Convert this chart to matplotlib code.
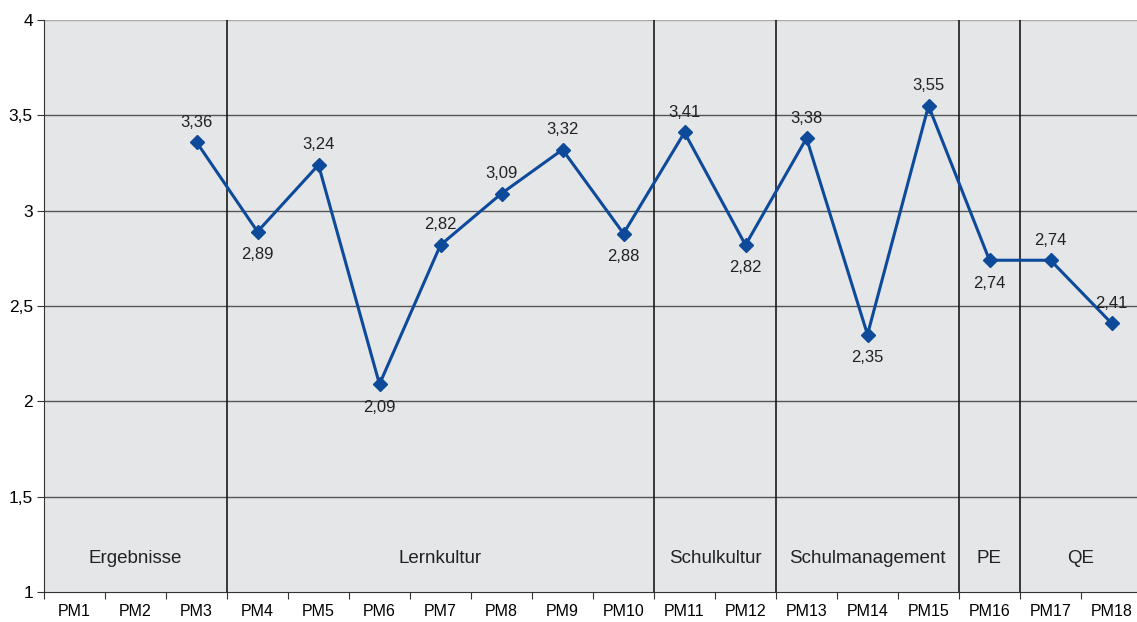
import matplotlib.pyplot as plt
import numpy as np

plt.rcParams['font.family'] = ['Liberation Sans', 'DejaVu Sans']

categories = ['PM%d' % i for i in range(1, 19)]
values = [None, None, 3.36, 2.89, 3.24, 2.09, 2.82, 3.09, 3.32, 2.88,
          3.41, 2.82, 3.38, 2.35, 3.55, 2.74, 2.74, 2.41]
# label above (1) or below (-1) the point
label_side = [0, 0, 1, -1, 1, -1, 1, 1, 1, -1, 1, -1, 1, -1, 1, -1, 1, 1]
groups = ['Ergebnisse', 'Lernkultur', 'Schulkultur', 'Schulmanagement', 'PE', 'QE']
group_sizes = [3, 7, 2, 3, 1, 2]
y_ticks = [1, 1.5, 2, 2.5, 3, 3.5, 4]
y_ticklabels = ['1', '1,5', '2', '2,5', '3', '3,5', '4']

W, H = 1137, 622
fig = plt.figure(figsize=(W / 100, H / 100), dpi=100)
ax = fig.add_axes([44 / W, (H - 592) / H, 18 * 61 / W, 572 / H])
ax.set_facecolor('#e5e6e8')

x = np.arange(len(categories))
ax.set_xlim(-0.5, len(categories) - 0.5)
ax.set_ylim(1, 4)

# horizontal gridlines
for yv in y_ticks[1:-1]:
    ax.axhline(yv, color='#555555', lw=1.0, zorder=1)

# group separators and labels
start = 0
for g, n in zip(groups, group_sizes):
    end = start + n
    if end < len(categories):
        ax.axvline(end - 0.5, color='#1a1a1a', lw=1.2, zorder=2)
    ax.text((start + end - 1) / 2, 1.175, g, ha='center', va='center',
            fontsize=13.5, color='#222222')
    start = end

xs = [xi for xi, v in zip(x, values) if v is not None]
ys = [v for v in values if v is not None]
ax.plot(xs, ys, color='#0d4a9a', lw=2.2, marker='D', markersize=7, zorder=3)

for xi, v, s in zip(x, values, label_side):
    if v is None:
        continue
    off = 0.105 if s > 0 else -0.12
    ax.text(xi, v + off, ('%.2f' % v).replace('.', ','), ha='center',
            va='center', fontsize=12, color='#222222')

ax.set_yticks(y_ticks)
ax.set_yticklabels(y_ticklabels, fontsize=12.5)
ax.set_xticks(np.arange(len(categories) + 1) - 0.5, minor=False)
ax.set_xticklabels([])
ax.set_xticks(x, minor=True)
ax.set_xticklabels(categories, minor=True, fontsize=11.5)
ax.tick_params(axis='x', which='minor', length=0, pad=9)
ax.tick_params(axis='x', which='major', length=5, color='#333333')
ax.tick_params(axis='y', length=5, color='#333333', pad=3)

for side in ['top', 'right']:
    ax.spines[side].set_visible(False)
ax.spines['left'].set_color('#333333')
ax.spines['bottom'].set_color('#333333')
ax.axhline(4, color='#aaaaaa', lw=1.0, zorder=1)

fig.savefig('out.png', dpi=100)
